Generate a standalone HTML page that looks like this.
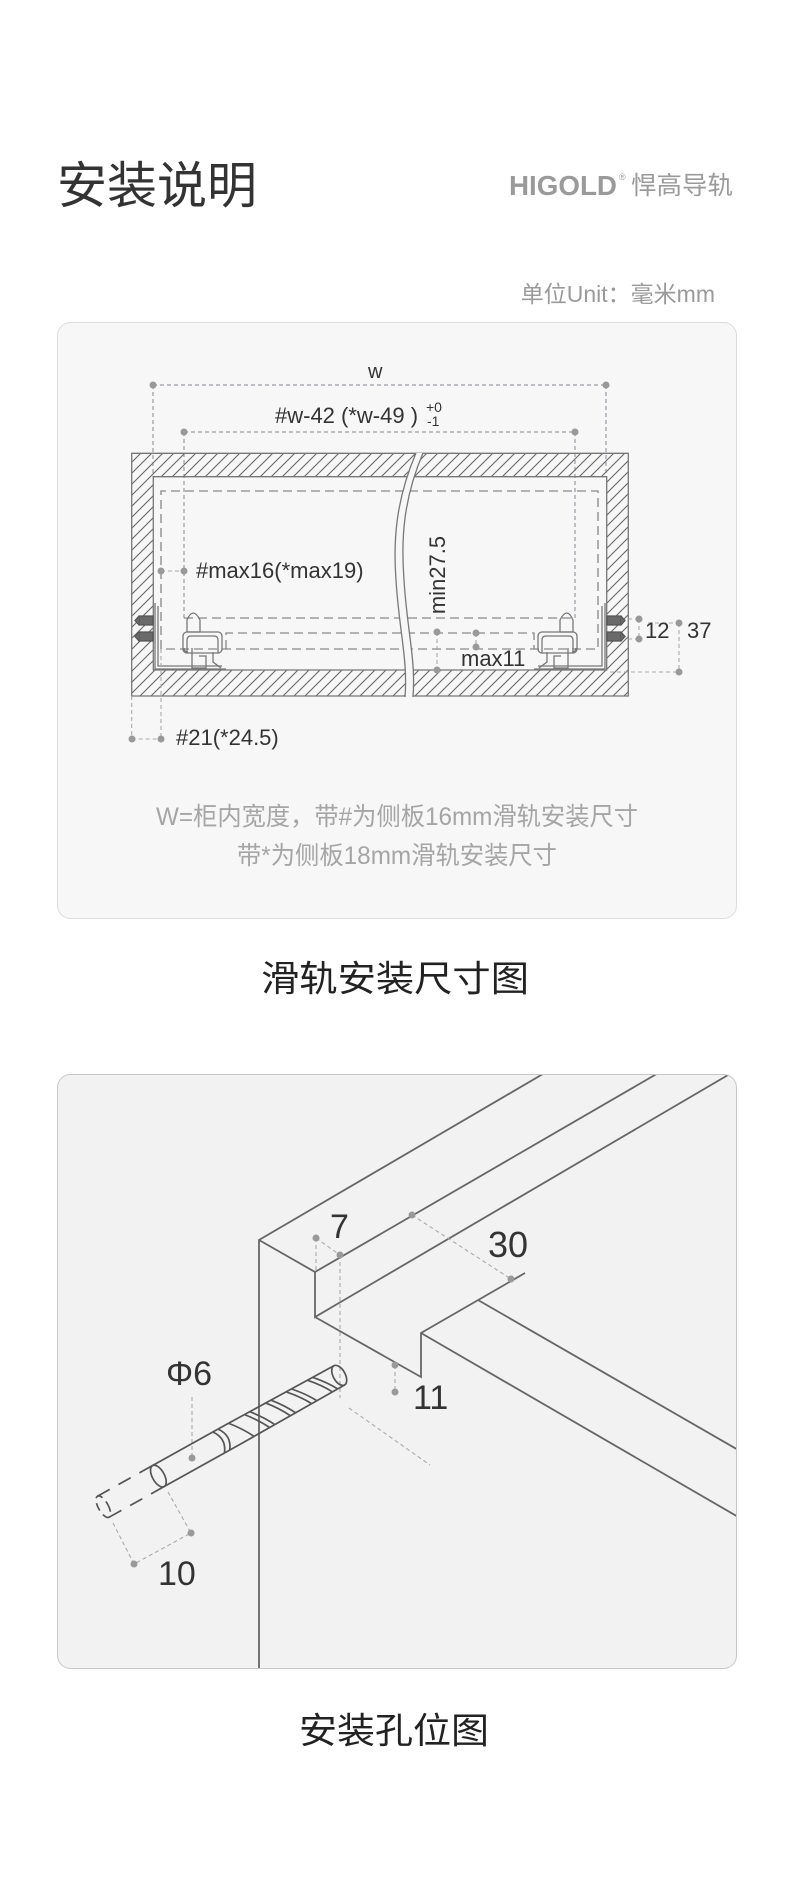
<!DOCTYPE html>
<html><head><meta charset="utf-8"><style>
html,body{margin:0;padding:0;background:#fff;}
svg{display:block;}
text{font-family:"Liberation Sans","Noto Sans CJK SC",sans-serif;}
</style></head><body>
<svg width="790" height="1880" viewBox="0 0 790 1880" xmlns="http://www.w3.org/2000/svg">
<defs>
<pattern id="h" patternUnits="userSpaceOnUse" width="11" height="11">
<path d="M-1,12 L12,-1 M-3,3 L3,-3 M8,14 L14,8" stroke="#666" stroke-width="1.1"/>
</pattern>
</defs>

<!-- Header -->
<text x="57" y="203" font-size="50" fill="#333">安装说明</text>
<text x="509" y="195" font-size="28" font-weight="bold" fill="#9a9a9a" textLength="108" lengthAdjust="spacingAndGlyphs">HIGOLD</text>
<text x="619" y="180" font-size="9" fill="#9a9a9a">®</text>
<text x="631" y="194" font-size="25" fill="#9a9a9a" textLength="102" lengthAdjust="spacingAndGlyphs">悍高导轨</text>
<text x="715" y="302" font-size="23" fill="#9a9a9a" text-anchor="end">单位Unit：毫米mm</text>

<!-- Card 1 -->
<rect x="57.5" y="322.5" width="679" height="596" rx="13" fill="#f7f7f7" stroke="#dcdcdc"/>

<g stroke="#9a9aa6" stroke-width="1.2" stroke-dasharray="4 3" fill="none">
<path d="M153,385 L606,385 M153,385 L153,477 M606,385 L606,477"/>
<path d="M184,432 L575,432 M184,432 L184,618 M575,432 L575,618"/>
</g>

<path d="M131.7,453.3 H628.3 V696 H131.7 Z M153.3,476.7 V670 H606.7 V476.7 Z" fill="url(#h)" fill-rule="evenodd" stroke="#777" stroke-width="1.3"/>

<g stroke="#888" stroke-width="1.3" stroke-dasharray="9 5" fill="none">
<path d="M161,649 L161,491 L598,491 L598,649 L161,649"/>
<path d="M184,618 L575,618"/>
<path d="M226,649 L226,633 L534,633 L534,649"/>
</g>

<path d="M416,453 C396,500 393,540 396,580 C399,630 408,660 405,697 L413,697 C416,660 407,630 404,580 C401,540 403,500 423,453 Z" fill="#f7f7f7"/>
<path d="M416,453 C396,500 393,540 396,580 C399,630 408,660 405,697 M423,453 C403,500 401,540 404,580 C407,630 416,660 413,697" stroke="#777" stroke-width="1.3" fill="none"/>

<g id="rl" stroke="#777" stroke-width="1.3" fill="none">
<path d="M155,603 L155,669 L226,669"/>
<path d="M158,606 L158,666 L222,666"/>
<path d="M139,616 h14 v9 h-14 z M139,632 h14 v9 h-14 z" fill="#6a6a6a" stroke="#555"/>
<path d="M139,616 l-4,4.5 l4,4.5 M139,632 l-4,4.5 l4,4.5" fill="#6a6a6a" stroke="#555"/>
<path d="M187,632 L187,620 Q193,606 200,620 L200,632 Z"/>
<rect x="183" y="632" width="39" height="21" rx="4"/>
<path d="M187,653 L187,640 Q187,636 191,636 L214,636 Q218,636 218,640 L218,653"/>
<path d="M192,648 L192,668 L206,668 L206,656 L199,656 M213,652 L213,662 L221,668"/>
<path d="M188,652 Q184,652 184,648"/>
</g>
<use href="#rl" transform="translate(760,0) scale(-1,1)"/>

<g stroke="#aaa" stroke-width="1.1" stroke-dasharray="4 3" fill="none">
<path d="M161,571 L184,571"/>
<path d="M437,632 L437,670 M476,633 L476,647"/>
<path d="M628,619 L639,619 M628,639 L639,639 M639,619 L639,639"/>
<path d="M648,623 L679,623 M610,672 L679,672 M679,623 L679,672"/>
<path d="M131.7,696 L131.7,739 M161,649 L161,739 M131.7,739 L161,739"/>
</g>
<g fill="#999">
<circle cx="153" cy="385" r="3.5"/><circle cx="606" cy="385" r="3.5"/>
<circle cx="184" cy="432" r="3.5"/><circle cx="575" cy="432" r="3.5"/>
<circle cx="161" cy="571" r="3.5"/><circle cx="184" cy="571" r="3.5"/>
<circle cx="437" cy="632" r="3.5"/><circle cx="437" cy="670" r="3.5"/>
<circle cx="476" cy="633" r="3.5"/><circle cx="476" cy="647" r="3.5"/>
<circle cx="639" cy="619" r="3.5"/><circle cx="639" cy="639" r="3.5"/>
<circle cx="679" cy="623" r="3.5"/><circle cx="679" cy="672" r="3.5"/>
<circle cx="132" cy="739" r="3.5"/><circle cx="161" cy="739" r="3.5"/>
</g>
<g fill="#333" font-size="22">
<text x="368" y="378" font-size="20">w</text>
<text x="275" y="423">#w-42 (*w-49 )</text>
<text x="426" y="412" font-size="14">+0</text>
<text x="427" y="426" font-size="14">-1</text>
<text x="196" y="578">#max16(*max19)</text>
<text transform="translate(445,575) rotate(-90)" text-anchor="middle">min27.5</text>
<text x="461" y="666">max11</text>
<text x="645" y="638">12</text>
<text x="687" y="638">37</text>
<text x="176" y="745">#21(*24.5)</text>
</g>
<text x="397" y="825" font-size="25" fill="#a5a5a5" text-anchor="middle" textLength="482" lengthAdjust="spacingAndGlyphs">W=柜内宽度，带#为侧板16mm滑轨安装尺寸</text>
<text x="397" y="864" font-size="25" fill="#a5a5a5" text-anchor="middle" textLength="320" lengthAdjust="spacingAndGlyphs">带*为侧板18mm滑轨安装尺寸</text>

<text x="395" y="991" font-size="36" fill="#222" text-anchor="middle" textLength="268" lengthAdjust="spacingAndGlyphs">滑轨安装尺寸图</text>

<!-- Card 2 -->
<rect x="57.5" y="1074.5" width="679" height="594" rx="13" fill="#f2f2f2" stroke="#c8c8c8"/>
<clipPath id="c2"><rect x="58" y="1075" width="678" height="593" rx="12"/></clipPath>
<g clip-path="url(#c2)" stroke="#666" stroke-width="1.8" fill="none">
<path d="M259,1689 L259,1240 L560,1064"/>
<path d="M259,1240 L315,1272 L660,1072"/>
<path d="M315,1272 L315,1317 L740,1068"/>
<path d="M315,1317 L421,1377 L421,1333 L525,1273"/>
<path d="M421,1333 L740,1518"/>
<path d="M478,1300 L740,1451"/>
</g>
<g stroke="#aaa" stroke-width="1.1" stroke-dasharray="4 3" fill="none">
<path d="M316,1238 L316,1272 M316,1238 L340,1255 M340,1255 L340,1398"/>
<path d="M412,1215 L511,1279"/>
<path d="M395,1365 L395,1392 M349,1408 L430,1465"/>
<path d="M192,1397 L192,1458"/>
<path d="M113,1523 L134,1564 L191,1533 L168,1492"/>
</g>
<g fill="#999">
<circle cx="316" cy="1238" r="3.5"/><circle cx="340" cy="1255" r="3.5"/>
<circle cx="412" cy="1215" r="3.5"/><circle cx="511" cy="1279" r="3.5"/>
<circle cx="395" cy="1365" r="3.5"/><circle cx="395" cy="1392" r="3.5"/>
<circle cx="192" cy="1458" r="3.5"/><circle cx="191" cy="1533" r="3.5"/><circle cx="134" cy="1564" r="3.5"/>
</g>
<g transform="translate(103.3,1506.7) rotate(-29.1)" stroke="#555" stroke-width="1.7" fill="none">
<path d="M0,-12 L52,-12 M0,12 L52,12" stroke-dasharray="14 10"/>
<path d="M52,-12 L150,-12 M52,12 L150,12"/>
<ellipse cx="0" cy="0" rx="5" ry="12" stroke-dasharray="8 5"/>
<ellipse cx="63" cy="0" rx="6" ry="12"/>
<path d="M132,-12 Q141,0 132,12 M138,-12 Q147,0 138,12"/>
<path d="M150,-12 L270,-11 M150,12 L270,11"/>
<path d="M150,-12 Q160,0 166,12 M168,-12 Q178,0 184,12 M174,-12 Q184,0 190,12 M192,-12 Q202,0 208,12 M198,-12 Q208,0 214,12 M216,-11 Q226,0 232,11 M222,-11 Q232,0 238,11 M240,-11 Q250,0 256,11 M246,-11 Q256,0 262,11"/>
<ellipse cx="270" cy="0" rx="6" ry="11"/>
</g>
<g fill="#333" font-size="34">
<text x="330" y="1238">7</text>
<text x="488" y="1257" font-size="36">30</text>
<text x="413" y="1409">11</text>
<text x="166" y="1385">Φ6</text>
<text x="158" y="1585">10</text>
</g>

<text x="394" y="1743" font-size="36" fill="#222" text-anchor="middle" textLength="190" lengthAdjust="spacingAndGlyphs">安装孔位图</text>
</svg>
</body></html>
